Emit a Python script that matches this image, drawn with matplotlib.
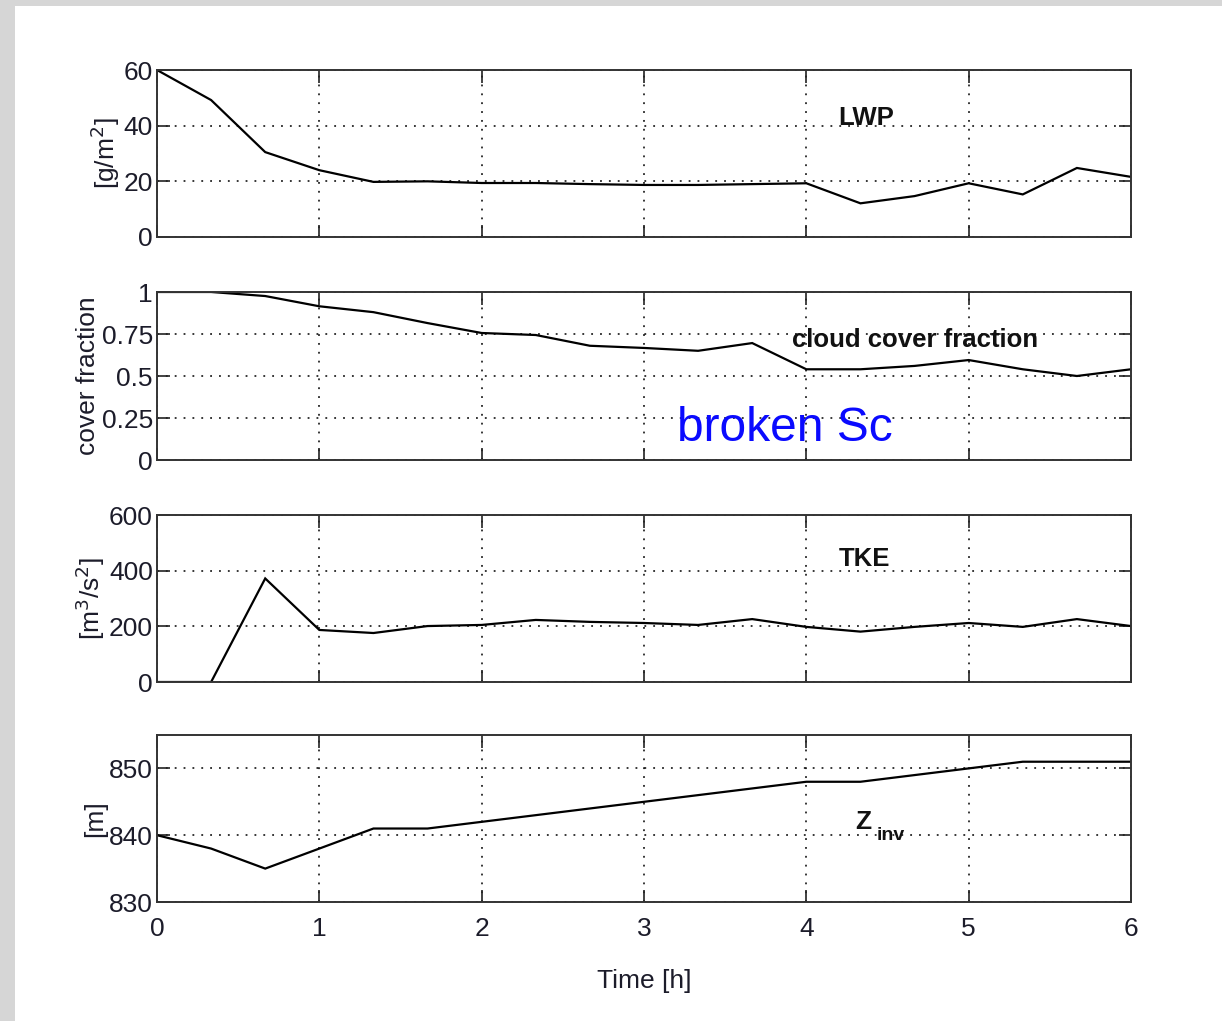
import numpy as np
import matplotlib
matplotlib.use("Agg")
import matplotlib.pyplot as plt
from matplotlib.patches import Rectangle

plt.rcParams['font.family'] = ['Liberation Sans', 'DejaVu Sans']

# Time axis: output every 20 minutes over 6 hours
time_h = np.arange(19) / 3.0

lwp = [60, 49.2, 30.5, 24.0, 19.8, 20.0, 19.4, 19.4, 19.0, 18.7, 18.7, 19.0,
       19.3, 12.1, 14.7, 19.3, 15.3, 24.8, 21.6]
cover = [1.0, 1.0, 0.976, 0.915, 0.88, 0.815, 0.756, 0.744, 0.68, 0.667, 0.65,
         0.696, 0.54, 0.54, 0.56, 0.595, 0.54, 0.50, 0.54]
tke = [0, 0, 372, 187, 176, 201, 205, 223, 216, 212, 205, 226, 198, 181, 198,
       212, 198, 226, 201]
zinv = [840, 838, 835, 838, 841, 841, 842, 843, 844, 845, 846, 847, 848, 848,
        849, 850, 851, 851, 851]

x_ticks = [0, 1, 2, 3, 4, 5, 6]
panels = [
    dict(y=lwp, ylim=(0, 60), yticks=[0, 20, 40, 60], yticklabels=['0', '20', '40', '60'],
         ylabel='[g/m$^2$]', tag='LWP', tag_xy=(4.37, 40.3)),
    dict(y=cover, ylim=(0, 1), yticks=[0, 0.25, 0.5, 0.75, 1],
         yticklabels=['0', '0.25', '0.5', '0.75', '1'],
         ylabel='cover fraction', tag='cloud cover fraction', tag_xy=(4.67, 0.675)),
    dict(y=tke, ylim=(0, 600), yticks=[0, 200, 400, 600],
         yticklabels=['0', '200', '400', '600'],
         ylabel='[m$^3$/s$^2$]', tag='TKE', tag_xy=(4.36, 415)),
    dict(y=zinv, ylim=(830, 855), yticks=[830, 840, 850],
         yticklabels=['830', '840', '850'],
         ylabel='[m]', tag=None, tag_xy=None),
]

W, H = 1222, 1021
fig = plt.figure(figsize=(W / 100, H / 100), dpi=100)
fig.patch.set_facecolor('white')

# light grey frame strips on the left and top edges
fig.add_artist(Rectangle((0, 0), 15 / W, 1, transform=fig.transFigure,
                         facecolor='#d6d6d6', edgecolor='none', zorder=-10))
fig.add_artist(Rectangle((0, 1 - 6 / H), 1, 6 / H, transform=fig.transFigure,
                         facecolor='#d6d6d6', edgecolor='none', zorder=-10))

left, right = 157, 1131
rows = [(70, 237), (292, 460), (515, 682), (735, 902)]
label_col = '#1c1c2a'
fs = 19

axes = []
for (top, bot), p in zip(rows, panels):
    ax = fig.add_axes([left / W, 1 - bot / H, (right - left) / W, (bot - top) / H])
    ax.plot(time_h, p['y'], color='black', lw=1.6, solid_joinstyle='miter',
            clip_on=True)
    ax.set_xlim(0, 6)
    ax.set_ylim(*p['ylim'])
    ax.set_xticks(x_ticks)
    ax.set_yticks(p['yticks'])
    ax.set_yticklabels(p['yticklabels'])
    ax.grid(True, color='black', linestyle=(0, (1.2, 4.6)), lw=1.1)
    ax.tick_params(direction='in', length=9, width=1.2, top=True, right=True,
                   labelsize=fs, labelcolor=label_col, pad=3, color='#222222')
    for s in ax.spines.values():
        s.set_linewidth(1.4)
        s.set_color('#333333')
    ax.set_ylabel(p['ylabel'], fontsize=fs, color=label_col, labelpad=1)
    if p['tag']:
        ax.text(*p['tag_xy'], p['tag'], fontsize=18.5, fontweight='bold',
                color='#111111', ha='center', va='baseline')
    axes.append(ax)

# inversion height tag with its subscript
axes[3].text(4.3, 841.0, 'Z', fontsize=19, fontweight='bold', color='#111111',
             ha='left', va='baseline')
axes[3].text(4.43, 839.3, 'inv', fontsize=14, fontweight='bold', color='#111111',
             ha='left', va='baseline')

for ax in axes[:-1]:
    ax.set_xticklabels([])
axes[-1].set_xticklabels([str(t) for t in x_ticks])
axes[-1].tick_params(axis='x', pad=11)
axes[-1].set_xlabel('Time [h]', fontsize=fs, color=label_col, labelpad=20)

axes[1].text(3.87, 0.115, 'broken Sc', fontsize=34.5, color='#0a0aff', ha='center',
             va='baseline')

fig.savefig('out.png', dpi=100)
